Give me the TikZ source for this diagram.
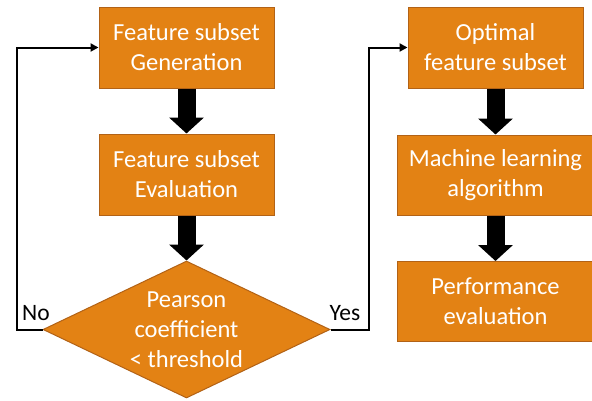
\documentclass[tikz,border=0pt]{standalone}
\usepackage{fontspec}
\setmainfont{Carlito}
\usetikzlibrary{shapes.geometric,arrows.meta}
\definecolor{boxfill}{RGB}{227,130,20}
\definecolor{boxedge}{RGB}{178,98,22}
\begin{document}
\begin{tikzpicture}[x=1pt,y=-1pt,
  box/.style={draw=boxedge, line width=1pt, fill=boxfill, text=white,
    font=\fontsize{24.5}{30}\selectfont, align=center, inner sep=0pt},
  dia/.style={diamond, draw=boxedge, line width=1pt, fill=boxfill, inner sep=0pt},
  diatext/.style={text=white, font=\fontsize{24.5}{30}\selectfont, align=center, inner sep=0pt},
  bigarrow/.style={line width=18pt, -{Triangle[width=34pt,length=16pt]}},
  thinarrow/.style={line width=2pt, -{Triangle[width=8pt,length=8pt]}},
  lbl/.style={font=\fontsize{23.5}{26}\selectfont, inner sep=0pt}]
\useasboundingbox (0,0) rectangle (592,400);
\node[box, minimum width=175pt, minimum height=81pt] (b1) at (186.5,47.5) {Feature subset\\Generation};
\node[box, minimum width=175pt, minimum height=81pt] (b2) at (186.5,174.5) {Feature subset\\Evaluation};
\node[dia, minimum width=287pt, minimum height=137pt] (d) at (186.5,329.5) {};
\node[diatext] (dt) at (d.center) {Pearson\\coefficient\\< threshold};
\node[box, minimum width=175pt, minimum height=81pt] (b3) at (495.5,47.5) {Optimal\\feature subset};
\node[box, minimum width=197pt, minimum height=80pt] (b4) at (495.5,175) {Machine learning\\algorithm};
\node[box, minimum width=197pt, minimum height=80pt] (b5) at (495.5,301.5) {Performance\\evaluation};
\draw[bigarrow] (b1.south) -- (b2.north);
\draw[bigarrow] (b2.south) -- (d.north);
\draw[bigarrow] (b3.south) -- (b4.north);
\draw[bigarrow] (b4.south) -- (b5.north);
\coordinate (nc) at (17,47.5);
\coordinate (yc) at (369,47.5);
\draw[thinarrow] (d.west) -| (nc) -- (b1.west);
\draw[thinarrow] (d.east) -| (yc) -- (b3.west);
\node[lbl] (no) at (36,313) {No};
\node[lbl] (yes) at (345,313) {Yes};
\end{tikzpicture}
\end{document}
